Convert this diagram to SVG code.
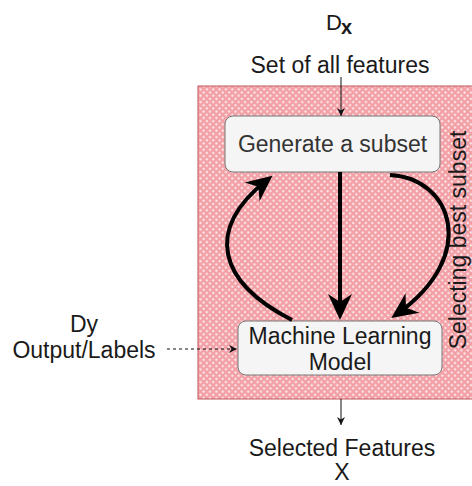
<svg xmlns="http://www.w3.org/2000/svg" width="472" height="486" viewBox="0 0 472 486">
  <defs>
    <!-- cross-hatch fill for the selection area: pink base with light diamond holes -->
    <pattern id="hatch" patternUnits="userSpaceOnUse" width="4.5" height="4.5" patternTransform="rotate(45)">
      <rect width="4.5" height="4.5" fill="#f2a0a6"/>
      <rect x="1.4" y="1.4" width="2" height="2" fill="#fff" fill-opacity="0.85"/>
    </pattern>
    <marker id="bigHead" markerUnits="userSpaceOnUse" markerWidth="30" markerHeight="26" refX="20" refY="12" orient="auto" overflow="visible">
      <path d="M27,12 L1,0 L9,12 L1,24 Z" fill="#000"/>
    </marker>
    <marker id="smallHead" markerUnits="userSpaceOnUse" markerWidth="10" markerHeight="10" refX="8" refY="4" orient="auto" overflow="visible">
      <path d="M8,4 L0,0 L2.5,4 L0,8 Z" fill="#111"/>
    </marker>
    <style>
      text { font-family: "Liberation Sans", Arial, sans-serif; fill: #1a1a1a; }
      .lbl { font-size: 23px; text-anchor: middle; }
      .box { fill: #f5f5f5; stroke: #777; stroke-width: 1; }
      .thick { fill: none; stroke: #000; stroke-width: 4; marker-end: url(#bigHead); }
      .thin { fill: none; stroke: #111; stroke-width: 1; marker-end: url(#smallHead); }
    </style>
  </defs>

  <rect width="472" height="486" fill="#fff"/>

  <!-- selection area -->
  <g id="selection-area">
    <rect x="198" y="86" width="290" height="313" fill="url(#hatch)" stroke="#c0565c" stroke-width="1"/>
    <text class="lbl" transform="translate(466,240) rotate(-90)">Selecting best subset</text>
  </g>

  <!-- input features -->
  <g id="input-features">
    <text x="326" y="30" font-size="22">D</text>
    <text x="341" y="34" font-size="20" font-weight="bold">x</text>
    <text class="lbl" x="340" y="73">Set of all features</text>
  </g>

  <!-- labels input -->
  <g id="labels-input">
    <text class="lbl" x="84" y="332" font-size="22">Dy</text>
    <text class="lbl" x="84" y="358">Output/Labels</text>
  </g>

  <!-- output features -->
  <g id="selected-features">
    <text class="lbl" x="342" y="456">Selected Features</text>
    <text class="lbl" x="342" y="480">X</text>
  </g>

  <g id="generate-subset">
    <rect class="box" x="225" y="116" width="215" height="56" rx="8"/>
    <text class="lbl" x="332.5" y="152" style="fill:#333">Generate a subset</text>
  </g>

  <g id="ml-model">
    <rect class="box" x="238" y="321" width="204" height="54" rx="8"/>
    <text class="lbl" x="340" y="344">Machine Learning</text>
    <text class="lbl" x="340" y="370">Model</text>
  </g>

  <!-- connectors -->
  <g id="connectors">
    <path class="thin" d="M341,77 L341,116"/>
    <path class="thin" d="M341,399 L341,425"/>
    <path class="thin" d="M167,349 L237,349" stroke-dasharray="3,3"/>
    <path class="thick" d="M340,172 L340,313"/>
    <path class="thick" d="M292,320 C218,282 204,230 267,180"/>
    <path class="thick" d="M390,175 C452,178 480,255 397,314"/>
  </g>
</svg>
